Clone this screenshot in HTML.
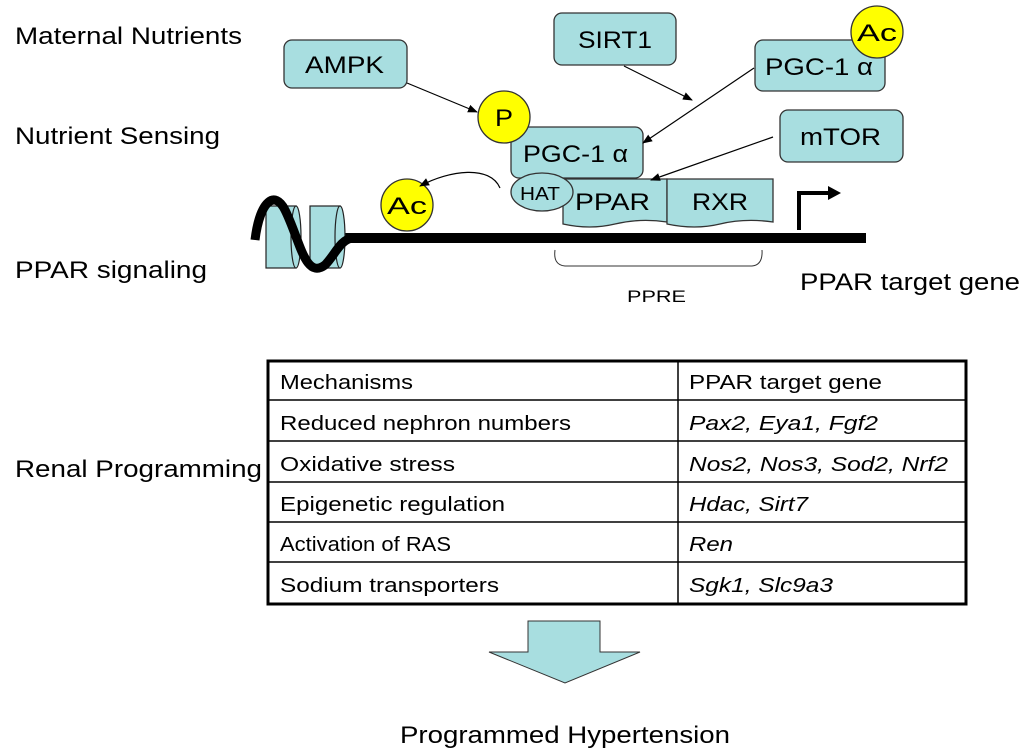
<!DOCTYPE html>
<html><head><meta charset="utf-8"><style>
body{margin:0;background:#fff;}
svg{display:block;font-family:"Liberation Sans",Arial,sans-serif;}
</style></head><body>
<svg width="1024" height="756" viewBox="0 0 1024 756">
<defs><marker id="ah" markerWidth="10" markerHeight="10" refX="9" refY="5" orient="auto" markerUnits="userSpaceOnUse"><path d="M0,1 L10,5 L0,9 z" fill="#000"/></marker></defs>
<g font-size="24" fill="#000" lengthAdjust="spacingAndGlyphs">
<text x="15" y="44" textLength="227" lengthAdjust="spacingAndGlyphs">Maternal Nutrients</text>
<text x="15" y="144" textLength="205" lengthAdjust="spacingAndGlyphs">Nutrient Sensing</text>
<text x="15" y="278" textLength="192" lengthAdjust="spacingAndGlyphs">PPAR signaling</text>
<text x="15" y="477" textLength="247" lengthAdjust="spacingAndGlyphs">Renal Programming</text>
<text x="800" y="290" textLength="220" lengthAdjust="spacingAndGlyphs">PPAR target gene</text>
<text x="400" y="743" textLength="330" lengthAdjust="spacingAndGlyphs">Programmed Hypertension</text>
</g>
<g stroke="#333" stroke-width="1.3" fill="#a8dee0">
<rect x="284" y="40" width="123" height="48" rx="8"/>
<rect x="554" y="13" width="122" height="52" rx="8"/>
<rect x="755" y="40" width="130" height="51" rx="8"/>
<rect x="780" y="110" width="123" height="52" rx="8"/>
<rect x="511" y="127" width="132" height="51" rx="8"/>
<path d="M563,179 H667 V222 Q640,218 615,224 Q590,230 563,224 Z"/>
<path d="M667,179 H773 V222 Q745,218 720,224 Q695,230 667,224 Z"/>
<ellipse cx="542" cy="192" rx="31" ry="19"/>
</g>
<g stroke="#333" stroke-width="1.3" fill="#ffff00">
<circle cx="877" cy="32" r="26"/>
<circle cx="504" cy="117" r="26"/>
<circle cx="407" cy="205" r="26"/>
</g>
<g font-size="24">
<text x="305" y="73" textLength="79" lengthAdjust="spacingAndGlyphs">AMPK</text>
<text x="578" y="48" textLength="74" lengthAdjust="spacingAndGlyphs">SIRT1</text>
<text x="765" y="75" textLength="108" lengthAdjust="spacingAndGlyphs">PGC-1 α</text>
<text x="800" y="145" textLength="81" lengthAdjust="spacingAndGlyphs">mTOR</text>
<text x="523" y="162" textLength="105" lengthAdjust="spacingAndGlyphs">PGC-1 α</text>
<text x="575" y="210" textLength="75" lengthAdjust="spacingAndGlyphs">PPAR</text>
<text x="692" y="210" textLength="56" lengthAdjust="spacingAndGlyphs">RXR</text>
<text x="857" y="41" textLength="40" lengthAdjust="spacingAndGlyphs">Ac</text>
<text x="495" y="126" textLength="18" lengthAdjust="spacingAndGlyphs">P</text>
<text x="387" y="214" textLength="40" lengthAdjust="spacingAndGlyphs">Ac</text>
<text x="520" y="200" font-size="18" textLength="40" lengthAdjust="spacingAndGlyphs">HAT</text>
<text x="627" y="302" font-size="17" textLength="59" lengthAdjust="spacingAndGlyphs">PPRE</text>
</g>
<g stroke="#000" stroke-width="1.2" fill="none" marker-end="url(#ah)">
<line x1="407" y1="83" x2="477" y2="112"/>
<line x1="624" y1="66" x2="692" y2="100"/>
<line x1="754" y1="68" x2="643" y2="143"/>
<line x1="773" y1="137" x2="651" y2="180"/>
<path d="M500,188 C490,165 450,170 420,186"/>
</g>
<line x1="345" y1="238" x2="866" y2="238" stroke="#000" stroke-width="10"/>
<g stroke="#222" stroke-width="1.2" fill="#a8dee0">
<rect x="266" y="206" width="30" height="62"/>
<ellipse cx="296" cy="237" rx="5" ry="31"/>
<rect x="310" y="206" width="30" height="62"/>
<ellipse cx="340" cy="237" rx="5" ry="31"/>
</g>
<path d="M255,240 C260,200 275,190 285,210 C300,240 305,280 325,265 C335,255 340,240 352,238" stroke="#000" stroke-width="9" fill="none"/>
<path d="M799,230 V193 H830" stroke="#000" stroke-width="4" fill="none"/>
<path d="M828,186 L841,193 L828,200 z" fill="#000"/>
<path d="M555,250 Q553,265 565,266 H752 Q763,265 762,250" stroke="#333" stroke-width="1" fill="none"/>
<g stroke="#000">
<rect x="268" y="361" width="698" height="243" fill="none" stroke-width="3"/>
<line x1="678" y1="361" x2="678" y2="604" stroke-width="1.5"/>
<g stroke-width="1.5">
<line x1="268" y1="400" x2="966" y2="400"/>
<line x1="268" y1="441" x2="966" y2="441"/>
<line x1="268" y1="482" x2="966" y2="482"/>
<line x1="268" y1="522" x2="966" y2="522"/>
<line x1="268" y1="562" x2="966" y2="562"/>
</g></g>
<g font-size="20">
<text x="280" y="389" textLength="133" lengthAdjust="spacingAndGlyphs">Mechanisms</text>
<text x="280" y="430" textLength="291" lengthAdjust="spacingAndGlyphs">Reduced nephron numbers</text>
<text x="280" y="471" textLength="175" lengthAdjust="spacingAndGlyphs">Oxidative stress</text>
<text x="280" y="511" textLength="225" lengthAdjust="spacingAndGlyphs">Epigenetic regulation</text>
<text x="280" y="551" textLength="171" lengthAdjust="spacingAndGlyphs">Activation of RAS</text>
<text x="280" y="592" textLength="219" lengthAdjust="spacingAndGlyphs">Sodium transporters</text>
<text x="689" y="389" textLength="193" lengthAdjust="spacingAndGlyphs">PPAR target gene</text>
<g font-style="italic">
<text x="689" y="430" textLength="189" lengthAdjust="spacingAndGlyphs">Pax2, Eya1, Fgf2</text>
<text x="689" y="471" textLength="259" lengthAdjust="spacingAndGlyphs">Nos2, Nos3, Sod2, Nrf2</text>
<text x="689" y="511" textLength="119" lengthAdjust="spacingAndGlyphs">Hdac, Sirt7</text>
<text x="689" y="551" textLength="44" lengthAdjust="spacingAndGlyphs">Ren</text>
<text x="689" y="592" textLength="144" lengthAdjust="spacingAndGlyphs">Sgk1, Slc9a3</text>
</g></g>
<path d="M528,621 H600 V652 H640 L565,683 L489,652 H528 Z" fill="#a8dee0" stroke="#333" stroke-width="1"/>
</svg>
</body></html>
